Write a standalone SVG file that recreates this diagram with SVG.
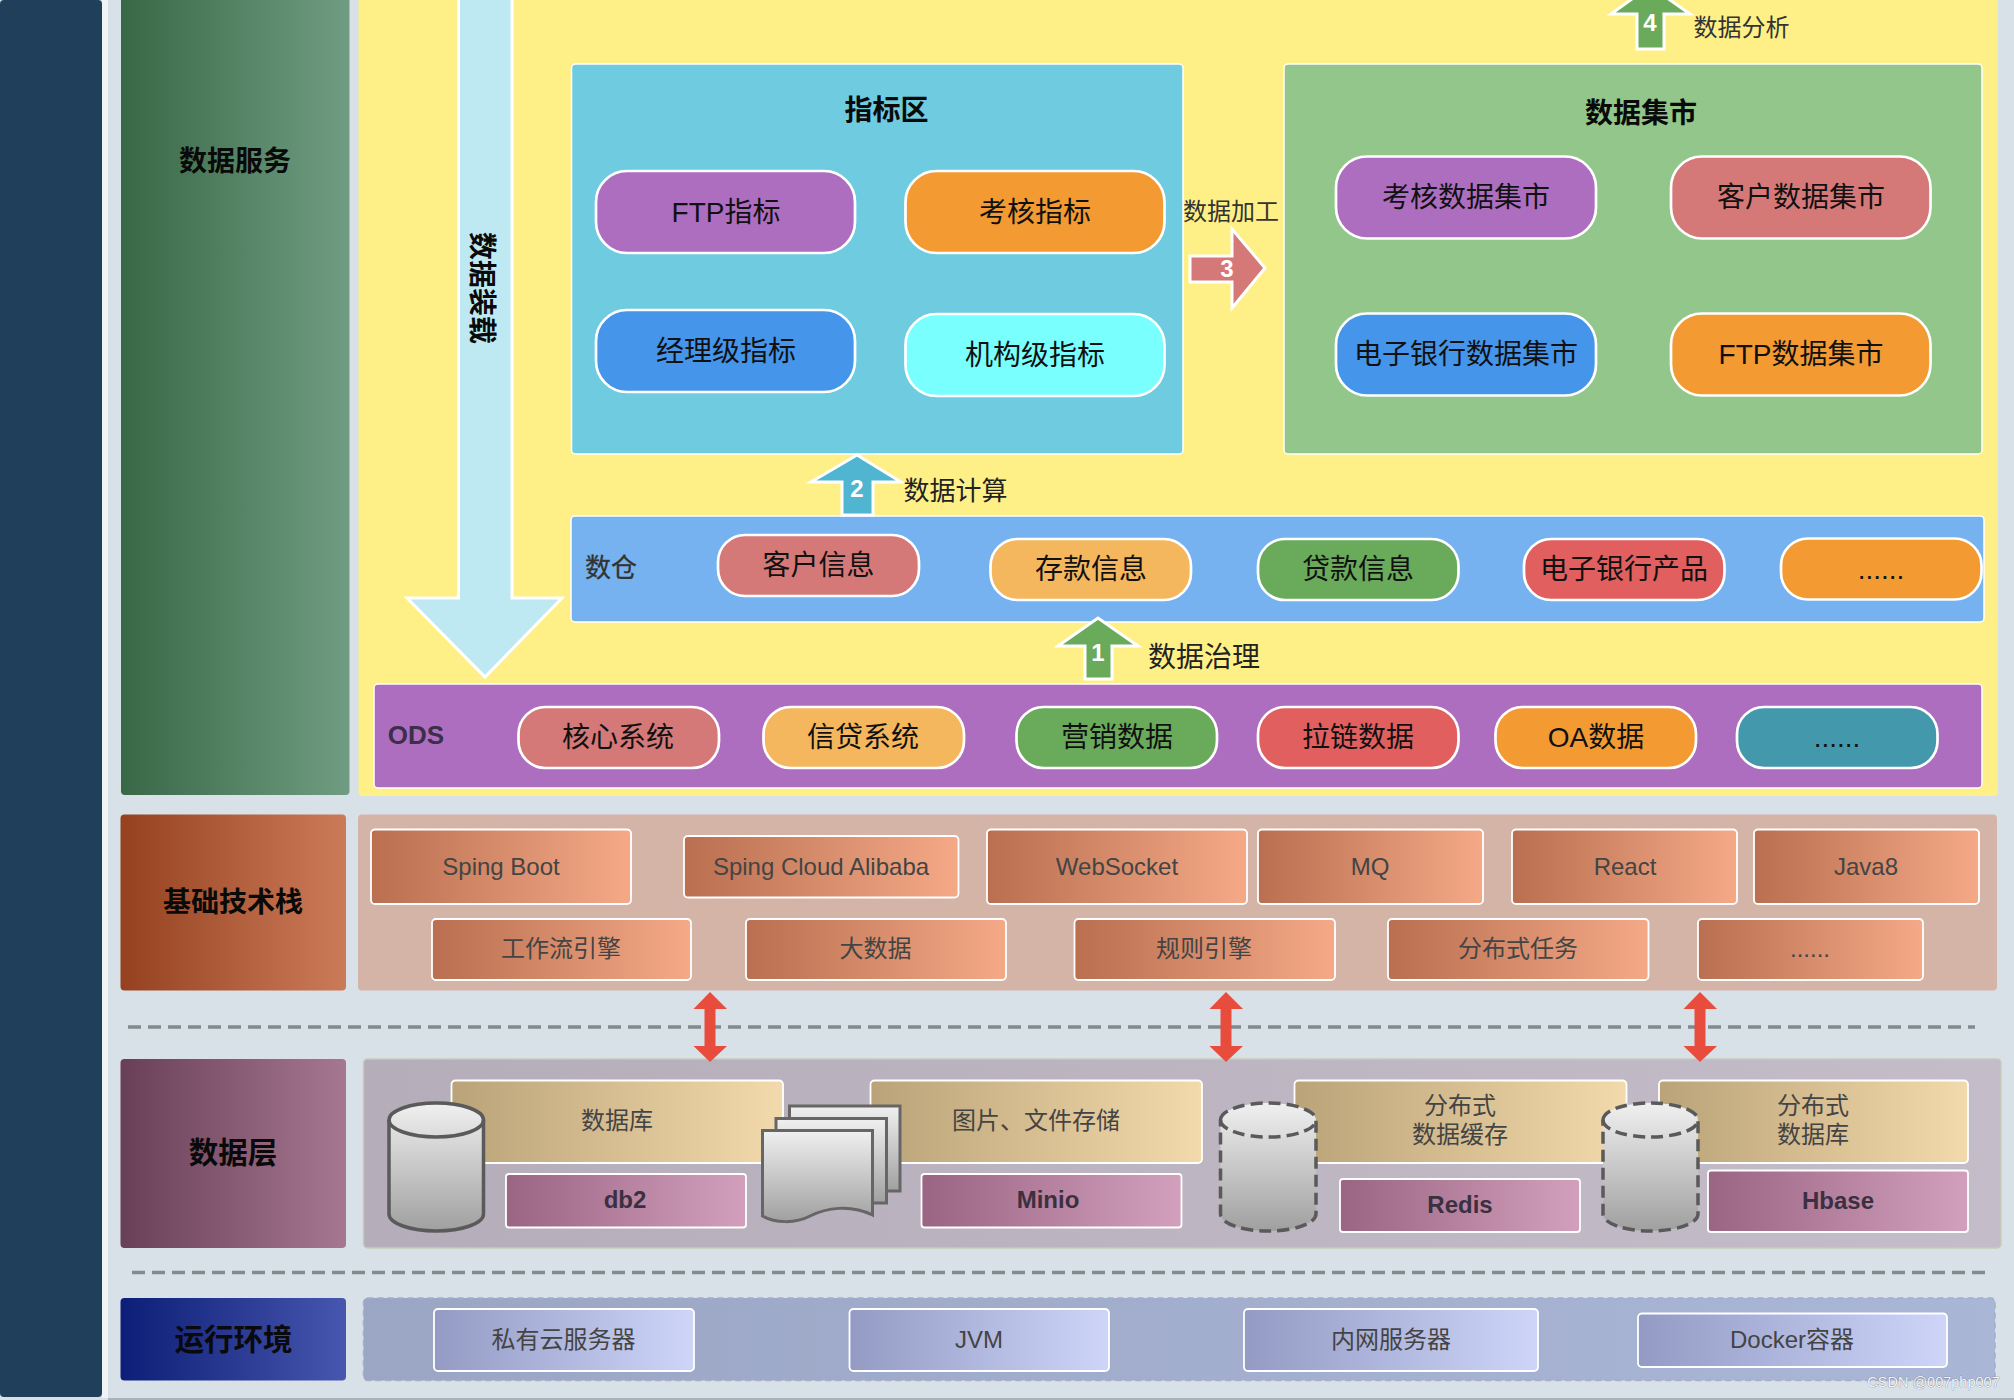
<svg xmlns="http://www.w3.org/2000/svg" width="2014" height="1400" viewBox="0 0 2014 1400">
<defs>
<linearGradient id="gGreen"><stop offset="0" stop-color="#386846"/><stop offset="1" stop-color="#709d82"/></linearGradient>
<linearGradient id="gRust"><stop offset="0" stop-color="#954120"/><stop offset="1" stop-color="#cc7b58"/></linearGradient>
<linearGradient id="gPlum"><stop offset="0" stop-color="#693f58"/><stop offset="1" stop-color="#a67790"/></linearGradient>
<linearGradient id="gNavy"><stop offset="0" stop-color="#0c1e77"/><stop offset="1" stop-color="#4756ae"/></linearGradient>
<linearGradient id="gTech"><stop offset="0" stop-color="#b96f50"/><stop offset="1" stop-color="#f5a987"/></linearGradient>
<linearGradient id="gStore"><stop offset="0" stop-color="#baa378"/><stop offset="1" stop-color="#f3daac"/></linearGradient>
<linearGradient id="gProd"><stop offset="0" stop-color="#9a6483"/><stop offset="1" stop-color="#d2a0bd"/></linearGradient>
<linearGradient id="gEnv"><stop offset="0" stop-color="#939bc4"/><stop offset="1" stop-color="#ced5f9"/></linearGradient>
<linearGradient id="gDataBg"><stop offset="0" stop-color="#b5adb9"/><stop offset="1" stop-color="#c4bcc8"/></linearGradient>
<linearGradient id="gEnvBg"><stop offset="0" stop-color="#9ba6c5"/><stop offset="1" stop-color="#aab6d6"/></linearGradient>
<linearGradient id="gCyl" x1="0" y1="0" x2="0" y2="1"><stop offset="0" stop-color="#f0f0f0"/><stop offset="1" stop-color="#a0a0a0"/></linearGradient>
</defs>
<style>
text{font-family:"Liberation Sans","Noto Sans CJK SC",sans-serif;text-anchor:middle;dominant-baseline:central}
.sec{font-size:28px;font-weight:700;fill:#0a0a0a}
.sec2{font-size:29.500px;font-weight:700;fill:#0a0a0a}
.title{font-size:28px;font-weight:700;fill:#0a0a0a}
.pill{stroke:#fff;stroke-width:2.700}
.pt{font-size:28px;fill:#111}
.lab{font-size:26px;fill:#333;stroke:#333;stroke-width:.3}
.box{stroke:#fff;stroke-width:1.800}
.bt{font-size:24px;fill:#444}
.bb{font-size:24px;font-weight:700;fill:#3b3040}
.num{font-size:24px;font-weight:700;fill:#fff}
.al{fill:#222}
.arrow{stroke:#fff;stroke-width:3}
.dash{stroke:#7f8c8d;stroke-width:3.500;stroke-dasharray:13 7;fill:none}
.dbl{fill:#e74c3c}
.cyl{fill:url(#gCyl);stroke:#5a5a5a;stroke-width:3.500}
.cd{stroke-dasharray:12 6}
.doc{fill:url(#gCyl);stroke:#666;stroke-width:3}
</style>
<rect width="2014" height="1400" fill="#d9e1e8"/>
<rect x="102" y="0" width="6" height="1398" fill="#f1f4f6"/>
<rect x="0" y="0" width="102" height="1397" rx="4" fill="#1f3f5a"/>
<rect x="108" y="1398" width="1906" height="2" fill="#a9b2b8"/>

<g id="layer-service">
<rect x="121" y="-6" width="228.500" height="801" rx="4" fill="url(#gGreen)"/>
<text class="sec" x="235" y="161">数据服务</text>
<rect x="358.500" y="-6" width="1639.500" height="802" rx="4" fill="#fef087"/>
</g>

<g id="zone-indicators">
<rect x="571.500" y="64" width="611.500" height="390" rx="4" fill="#6fcbdf" stroke="#fff" stroke-width="1.500"/>
<text class="title" x="886.500" y="110">指标区</text>
</g>
<g id="ind-ftp"><rect class="pill" x="596" y="171" width="259" height="82" rx="31" fill="#ae6ec0"/><text class="pt" x="726" y="212">FTP指标</text></g>
<g id="ind-assess"><rect class="pill" x="905.500" y="171" width="259" height="82" rx="31" fill="#f39a33"/><text class="pt" x="1035" y="212">考核指标</text></g>
<g id="ind-manager"><rect class="pill" x="596" y="310" width="259" height="82" rx="31" fill="#4595ea"/><text class="pt" x="726" y="351.500">经理级指标</text></g>
<g id="ind-org"><rect class="pill" x="905.500" y="314" width="259" height="82" rx="31" fill="#7affff"/><text class="pt" x="1035" y="355.500">机构级指标</text></g>

<g id="zone-mart">
<rect x="1284" y="64" width="698" height="390" rx="4" fill="#92c68a" stroke="#fff" stroke-width="1.500"/>
<text class="title" x="1641" y="113.500">数据集市</text>
</g>
<g id="mart-assess"><rect class="pill" x="1336" y="156.500" width="260" height="82" rx="31" fill="#ae6ec0"/><text class="pt" x="1466" y="197.500">考核数据集市</text></g>
<g id="mart-customer"><rect class="pill" x="1671" y="156.500" width="259.500" height="82" rx="31" fill="#d57878"/><text class="pt" x="1801" y="197.500">客户数据集市</text></g>
<g id="mart-ebank"><rect class="pill" x="1336" y="313.500" width="260" height="82" rx="31" fill="#4595ea"/><text class="pt" x="1466" y="354">电子银行数据集市</text></g>
<g id="mart-ftp"><rect class="pill" x="1671" y="313.500" width="259.500" height="82" rx="31" fill="#f39a33"/><text class="pt" x="1801" y="354">FTP数据集市</text></g>

<g id="zone-dw">
<rect x="571" y="516" width="1413" height="106" rx="4" fill="#76b2ef" stroke="#fff" stroke-width="1.500"/>
<text class="lab" x="611" y="567.500">数仓</text>
</g>
<g id="dw-customer"><rect class="pill" x="718" y="535" width="201" height="61" rx="27" fill="#d57878"/><text class="pt" x="818.500" y="565.500">客户信息</text></g>
<g id="dw-deposit"><rect class="pill" x="990.500" y="539" width="200.500" height="61" rx="27" fill="#f5b75e"/><text class="pt" x="1091" y="569.500">存款信息</text></g>
<g id="dw-loan"><rect class="pill" x="1258" y="539" width="200.500" height="61" rx="27" fill="#69ab5a"/><text class="pt" x="1358" y="569.500">贷款信息</text></g>
<g id="dw-ebank"><rect class="pill" x="1524" y="539" width="200.500" height="61" rx="27" fill="#e15f5f"/><text class="pt" x="1624" y="569.500">电子银行产品</text></g>
<g id="dw-more"><rect class="pill" x="1781" y="538.500" width="200.500" height="61" rx="27" fill="#f39a33"/><text class="pt" x="1881" y="569.500">......</text></g>

<g id="zone-ods">
<rect x="374" y="684" width="1608" height="104" rx="4" fill="#ae6ec0" stroke="#fff" stroke-width="1.500"/>
<text x="416" y="735" font-size="26" font-weight="700" fill="#3b2f4a">ODS</text>
</g>
<g id="ods-core"><rect class="pill" x="518.500" y="707" width="200.500" height="61" rx="27" fill="#d57878"/><text class="pt" x="618" y="737.500">核心系统</text></g>
<g id="ods-credit"><rect class="pill" x="763.500" y="707" width="200.500" height="61" rx="27" fill="#f5b75e"/><text class="pt" x="863" y="737.500">信贷系统</text></g>
<g id="ods-marketing"><rect class="pill" x="1016.500" y="707" width="200.500" height="61" rx="27" fill="#69ab5a"/><text class="pt" x="1117" y="737.500">营销数据</text></g>
<g id="ods-zipper"><rect class="pill" x="1258" y="707" width="200.500" height="61" rx="27" fill="#e15f5f"/><text class="pt" x="1358" y="737.500">拉链数据</text></g>
<g id="ods-oa"><rect class="pill" x="1495.500" y="707" width="200.500" height="61" rx="27" fill="#f39a33"/><text class="pt" x="1596" y="737.500">OA数据</text></g>
<g id="ods-more"><rect class="pill" x="1737" y="707" width="200.500" height="61" rx="27" fill="#4398ab"/><text class="pt" x="1837" y="737.500">......</text></g>

<g id="layer-tech">
<rect x="120.500" y="814.500" width="225.500" height="176" rx="4" fill="url(#gRust)"/>
<text class="sec" x="233" y="902.500">基础技术栈</text>
<rect x="358" y="814.500" width="1639" height="176" rx="4" fill="#d5b4a8"/>
</g>
<g id="tech-boot"><rect class="box" x="371" y="829.500" width="260" height="74.500" rx="4" fill="url(#gTech)"/><text class="bt" x="501" y="866">Sping Boot</text></g>
<g id="tech-cloud"><rect class="box" x="684" y="836" width="274.500" height="61.500" rx="4" fill="url(#gTech)"/><text class="bt" x="821" y="866">Sping Cloud Alibaba</text></g>
<g id="tech-ws"><rect class="box" x="987" y="829.500" width="260" height="74.500" rx="4" fill="url(#gTech)"/><text class="bt" x="1117" y="866">WebSocket</text></g>
<g id="tech-mq"><rect class="box" x="1258" y="829.500" width="225" height="74.500" rx="4" fill="url(#gTech)"/><text class="bt" x="1370" y="866">MQ</text></g>
<g id="tech-react"><rect class="box" x="1512" y="829.500" width="225" height="74.500" rx="4" fill="url(#gTech)"/><text class="bt" x="1625" y="866">React</text></g>
<g id="tech-java"><rect class="box" x="1754" y="829.500" width="225" height="74.500" rx="4" fill="url(#gTech)"/><text class="bt" x="1866" y="866">Java8</text></g>
<g id="tech-flow"><rect class="box" x="432" y="919" width="259" height="61" rx="4" fill="url(#gTech)"/><text class="bt" x="561" y="948">工作流引擎</text></g>
<g id="tech-bigdata"><rect class="box" x="746" y="919" width="260" height="61" rx="4" fill="url(#gTech)"/><text class="bt" x="875.500" y="948">大数据</text></g>
<g id="tech-rule"><rect class="box" x="1074.500" y="919" width="260.500" height="61" rx="4" fill="url(#gTech)"/><text class="bt" x="1204" y="948">规则引擎</text></g>
<g id="tech-task"><rect class="box" x="1388" y="919" width="260.500" height="61" rx="4" fill="url(#gTech)"/><text class="bt" x="1518" y="948">分布式任务</text></g>
<g id="tech-more"><rect class="box" x="1698" y="919" width="225" height="61" rx="4" fill="url(#gTech)"/><text class="bt" x="1810" y="948">......</text></g>

<g id="layer-data">
<rect x="120.500" y="1059" width="225.500" height="189" rx="4" fill="url(#gPlum)"/>
<text class="sec2" x="233" y="1152.500">数据层</text>
<rect x="363.500" y="1059" width="1637.500" height="189" rx="4" fill="url(#gDataBg)" stroke="#c5ccb9" stroke-width="1.500"/>
</g>
<g id="store-db"><rect class="box" x="451.500" y="1080.500" width="331.500" height="82.500" rx="4" fill="url(#gStore)"/><text class="bt" x="617" y="1120">数据库</text></g>
<g id="store-file"><rect class="box" x="870.500" y="1080.500" width="331.500" height="82.500" rx="4" fill="url(#gStore)"/><text class="bt" x="1036" y="1120">图片、文件存储</text></g>
<g id="store-cache"><rect class="box" x="1294.500" y="1080.500" width="332" height="82.500" rx="4" fill="url(#gStore)"/><text class="bt" x="1460" y="1105.500">分布式</text><text class="bt" x="1460" y="1134.500">数据缓存</text></g>
<g id="store-dist"><rect class="box" x="1659" y="1080.500" width="309" height="82.500" rx="4" fill="url(#gStore)"/><text class="bt" x="1813" y="1105.500">分布式</text><text class="bt" x="1813" y="1134.500">数据库</text></g>
<g id="prod-db2"><rect class="box" x="506" y="1174" width="240" height="53.500" rx="3" fill="url(#gProd)"/><text class="bb" x="625" y="1199">db2</text></g>
<g id="prod-minio"><rect class="box" x="921.500" y="1174" width="260" height="53.500" rx="3" fill="url(#gProd)"/><text class="bb" x="1048" y="1199">Minio</text></g>
<g id="prod-redis"><rect class="box" x="1340" y="1179" width="240" height="53" rx="3" fill="url(#gProd)"/><text class="bb" x="1460" y="1204">Redis</text></g>
<g id="prod-hbase"><rect class="box" x="1708" y="1170.500" width="260" height="61.500" rx="3" fill="url(#gProd)"/><text class="bb" x="1838" y="1200">Hbase</text></g>
<g id="cyl-db">
<path class="cyl" d="M389 1120 A47.250 17 0 0 1 483.500 1120 V1214 A47.250 17 0 0 1 389 1214 Z"/>
<path class="cyl" d="M389 1120 A47.250 17 0 0 0 483.500 1120" style="fill:none"/>
</g>
<g id="docs">
<path class="doc" d="M789.500 1106 H900 V1191 H789.500 Z"/>
<path class="doc" d="M776 1118.500 H886.500 V1203 H776 Z"/>
<path class="doc" d="M762.500 1130.500 H872.500 V1215 C850 1204 826 1208 810 1216 C795 1224 775 1223 762.500 1216 Z"/>
</g>
<g id="cyl-cache">
<path class="cyl cd" d="M1220.500 1120 A47.750 17 0 0 1 1316 1120 V1214 A47.750 17 0 0 1 1220.500 1214 Z"/>
<path class="cyl cd" d="M1220.500 1120 A47.750 17 0 0 0 1316 1120" style="fill:none"/>
</g>
<g id="cyl-dist">
<path class="cyl cd" d="M1603 1120 A47.500 17 0 0 1 1698 1120 V1214 A47.500 17 0 0 1 1603 1214 Z"/>
<path class="cyl cd" d="M1603 1120 A47.500 17 0 0 0 1698 1120" style="fill:none"/>
</g>

<g id="layer-env">
<rect x="120.500" y="1298" width="225.500" height="82.500" rx="4" fill="url(#gNavy)"/>
<text class="sec2" x="233.500" y="1339.500">运行环境</text>
<rect x="363.500" y="1298" width="1631.500" height="82.500" rx="4" fill="url(#gEnvBg)" stroke="#a3aec9" stroke-width="1.500" stroke-dasharray="6 4"/>
</g>
<g id="env-cloud"><rect class="box" x="434" y="1309" width="260" height="62" rx="4" fill="url(#gEnv)"/><text class="bt" x="563.500" y="1339.500">私有云服务器</text></g>
<g id="env-jvm"><rect class="box" x="849.500" y="1309" width="259.500" height="62" rx="4" fill="url(#gEnv)"/><text class="bt" x="979" y="1339.500">JVM</text></g>
<g id="env-intranet"><rect class="box" x="1244" y="1309" width="294" height="62" rx="4" fill="url(#gEnv)"/><text class="bt" x="1391" y="1339.500">内网服务器</text></g>
<g id="env-docker"><rect class="box" x="1638" y="1313.500" width="309" height="53.500" rx="4" fill="url(#gEnv)"/><text class="bt" x="1792" y="1339.500">Docker容器</text></g>

<g id="connectors">
<path class="arrow" fill="#bfe9f2" d="M458.500 -6 H512 V598 H562 L485 677 L407 598 H458.500 Z"/>
<text x="481.500" y="288" font-size="28" font-weight="700" fill="#0a0a0a" transform="rotate(90 481.500 288)">数据装载</text>

<path class="arrow" fill="#69ab5a" d="M1085 679 V646 H1058 L1098 618 L1138 646 H1112 V679 Z"/>
<text class="num" x="1098" y="652">1</text>
<text class="al" x="1204" y="657.500" font-size="28">数据治理</text>

<path class="arrow" fill="#4fb5d1" d="M842 515 V482 H811 L857 455 L901 482 H873 V515 Z"/>
<text class="num" x="857" y="488">2</text>
<text class="al" x="955.500" y="490.500" font-size="26">数据计算</text>

<path class="arrow" fill="#d57878" d="M1190 256 H1232 V229 L1265 268 L1232 308 V282 H1190 Z"/>
<text class="num" x="1227" y="268">3</text>
<text x="1231" y="211" font-size="24" fill="#333">数据加工</text>

<path class="arrow" fill="#69ab5a" d="M1637 49 V14 H1611 L1650 -14 L1690 14 H1664 V49 Z"/>
<text class="num" x="1650" y="22">4</text>
<text x="1741.500" y="27" font-size="24" fill="#333">数据分析</text>

<path class="dash" d="M128 1027 H1975"/>
<path class="dash" d="M132 1272.500 H1990"/>
<path class="dbl" d="M710 992 L727 1009 H715.500 V1046 H727 L710 1062 L693.500 1046 H704.500 V1009 H693.500 Z"/>
<path class="dbl" d="M1226 992 L1243 1009 H1231.500 V1046 H1243 L1226 1062 L1209.500 1046 H1220.500 V1009 H1209.500 Z"/>
<path class="dbl" d="M1700 992 L1717 1009 H1705.500 V1046 H1717 L1700 1062 L1683.500 1046 H1694.500 V1009 H1683.500 Z"/>
</g>
<text x="1933.500" y="1382" font-size="14.500" fill="#f2f4f8" stroke="#5f6878" stroke-width=".7" stroke-opacity=".75" paint-order="stroke">CSDN @007php007</text>
</svg>
